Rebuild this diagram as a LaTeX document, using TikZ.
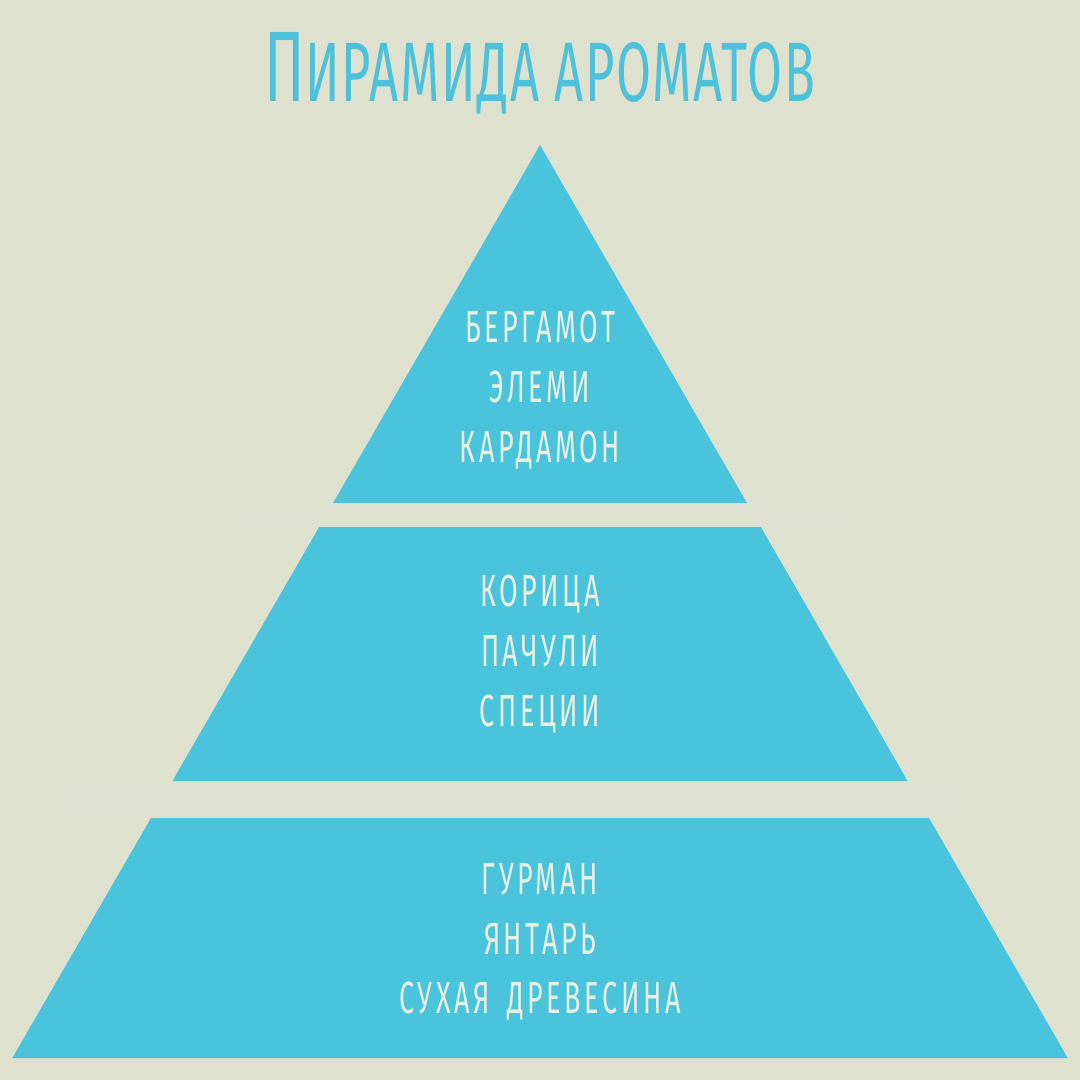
\documentclass[tikz,border=0pt]{standalone}
\usepackage{fontspec}
\setmainfont{Fira Sans}[FakeStretch=0.6]
\definecolor{bgpaper}{HTML}{DFE1CF}
\definecolor{bgband}{HTML}{E0E2D1}
\definecolor{layercyan}{HTML}{4AC4DD}
\definecolor{titlecyan}{HTML}{4DC1DA}
\definecolor{notewhite}{HTML}{EAF0E1}
\tikzset{
  layer/.style={fill=layercyan},
  notes/.style={text=notewhite,align=center,inner sep=0pt,
    font=\addfontfeatures{LetterSpace=8}\fontsize{12.8}{17}\selectfont},
}
\begin{document}
\begin{tikzpicture}[x=0.01cm,y=-0.01cm]
\useasboundingbox (0,0) rectangle (1080,1080);
\fill[bgpaper] (0,0) rectangle (1080,1080);
% faint bands between the layers
\fill[bgband] (235,505) rectangle (842,527);
\fill[bgband] (60,783) rectangle (955,816);
% pyramid layers, all on one triangle with apex (540,145)
\foreach \t/\b in {145/503,527/781,818/1058} {
  \fill[layer] ({540-0.578*(\t-145)},\t) -- ({540+0.578*(\t-145)},\t)
    -- ({540+0.578*(\b-145)},\b) -- ({540-0.578*(\b-145)},\b) -- cycle;
}
\node[text=titlecyan,inner sep=0pt,font=\addfontfeatures{LetterSpace=2}\fontsize{24}{26}\selectfont]
  (title) at (540,73) {{\fontsize{28.5}{30}\selectfont П}ИРАМИДА АРОМАТОВ};
\node[notes] (top) at (540,390) {БЕРГАМОТ\\ЭЛЕМИ\\КАРДАМОН};
\node[notes] (middle) at (540,654) {КОРИЦА\\ПАЧУЛИ\\СПЕЦИИ};
\node[notes] (base) at (540,942) {ГУРМАН\\ЯНТАРЬ\\СУХАЯ\hspace{0.15em} ДРЕВЕСИНА};
\end{tikzpicture}
\end{document}
